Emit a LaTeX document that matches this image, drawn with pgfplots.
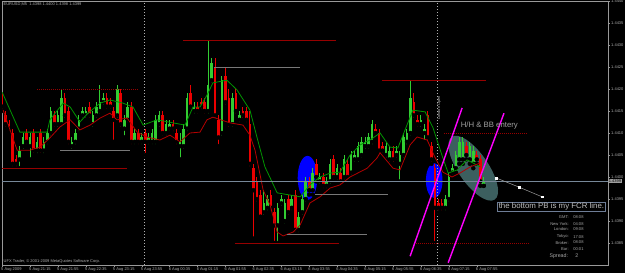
\documentclass[border=0pt]{standalone}
\usepackage{pgfplots}
\pgfplotsset{compat=1.18}
\usepackage{pgfplotstable}
\usepackage{fontspec}
\setmainfont{Liberation Sans}
\definecolor{bull}{RGB}{50,205,50}
\definecolor{bear}{RGB}{235,0,0}
\definecolor{mag}{RGB}{255,0,255}
\definecolor{maG}{RGB}{0,150,0}
\definecolor{maR}{RGB}{180,0,0}
\definecolor{hl}{RGB}{150,0,0}
\definecolor{gl}{RGB}{120,120,120}
\definecolor{bid}{RGB}{119,136,153}
\definecolor{lbl}{RGB}{175,175,175}
\definecolor{ell}{RGB}{60,95,95}
\definecolor{boxc}{RGB}{110,125,150}
\newcommand{\tf}{\fontsize{4}{4.5}\selectfont}

\pgfplotstableread{
i o h l c
6 1.4404 1.4407 1.4402 1.4406
7 1.4407 1.4410 1.4406 1.4409
9 1.4407 1.4410 1.4404 1.4409
11 1.4406 1.4409 1.4405 1.4408
13 1.4406 1.4409 1.4405 1.4408
14 1.4408 1.4411 1.4407 1.4410
15 1.4410 1.4416 1.4409 1.4415
17 1.4412 1.4415 1.4411 1.4414
18 1.4412 1.4420 1.4411 1.4418
21 1.4407 1.4409 1.4406 1.4408
22 1.4408 1.4411 1.4407 1.4410
23 1.4411 1.4414 1.4410 1.4413
24 1.4414 1.4416 1.4413 1.4415
25 1.4414 1.4416 1.4413 1.4415
27 1.4412 1.4415 1.4411 1.4414
28 1.4414 1.4417 1.4413 1.4416
29 1.4415 1.4421 1.4414 1.4417
30 1.4417 1.4419 1.4416 1.4418
34 1.4414 1.4421 1.4413 1.4420
36 1.4411 1.4414 1.4409 1.4413
37 1.4413 1.4417 1.4412 1.4416
39 1.4408 1.4411 1.4407 1.4410
41 1.4408 1.4410 1.4407 1.4409
43 1.4408 1.4410 1.4407 1.4409
44 1.4408 1.4411 1.4407 1.4410
45 1.4408 1.4414 1.4407 1.4413
46 1.4412 1.4415 1.4411 1.4414
48 1.4410 1.4413 1.4409 1.4412
49 1.4411 1.4413 1.4410 1.4412
52 1.4407 1.4410 1.4404 1.4408
53 1.4407 1.4412 1.4406 1.4411
54 1.4411 1.4419 1.4410 1.4418
56 1.4415 1.4417 1.4414 1.4416
60 1.4415 1.4431 1.4414 1.4421
61 1.4422 1.4427 1.4421 1.4426
64 1.4410 1.4423 1.4409 1.4422
67 1.4412 1.4419 1.4411 1.4418
69 1.4413 1.4415 1.4412 1.4414
76 1.4392 1.4397 1.4391 1.4394
77 1.4393 1.4396 1.4392 1.4395
80 1.4389 1.4394 1.4385 1.4393
81 1.4394 1.4396 1.4393 1.4395
82 1.4390 1.4395 1.4389 1.4394
84 1.4393 1.4396 1.4392 1.4395
86 1.4388 1.4392 1.4387 1.4391
87 1.4392 1.4396 1.4391 1.4395
88 1.4395 1.4400 1.4394 1.4399
90 1.4397 1.4402 1.4396 1.4401
92 1.4399 1.4401 1.4398 1.4400
94 1.4398 1.4400 1.4397 1.4399
95 1.4399 1.4404 1.4398 1.4403
97 1.4400 1.4403 1.4399 1.4402
99 1.4400 1.4405 1.4399 1.4404
101 1.4401 1.4406 1.4400 1.4405
102 1.4404 1.4406 1.4403 1.4405
103 1.4404 1.4408 1.4403 1.4407
104 1.4405 1.4409 1.4404 1.4408
105 1.4407 1.4409 1.4406 1.4408
106 1.4407 1.4410 1.4406 1.4409
107 1.4408 1.4413 1.4407 1.4412
111 1.4405 1.4408 1.4404 1.4407
112 1.4404 1.4407 1.4403 1.4406
114 1.4405 1.4407 1.4404 1.4406
115 1.4403 1.4406 1.4399 1.4405
116 1.4405 1.4410 1.4404 1.4409
117 1.4408 1.4411 1.4407 1.4410
118 1.4410 1.4422 1.4409 1.4418
121 1.4412 1.4414 1.4411 1.4413
122 1.4410 1.4412 1.4408 1.4411
128 1.4393 1.4396 1.4392 1.4395
129 1.4395 1.4401 1.4394 1.4400
130 1.4401 1.4403 1.4400 1.4402
131 1.4402 1.4406 1.4401 1.4405
132 1.4404 1.4409 1.4403 1.4408
133 1.4404 1.4409 1.4403 1.4408
135 1.4404 1.4408 1.4403 1.4407
136 1.4403 1.4407 1.4402 1.4406
139 1.4398 1.4400 1.4398 1.4399
}\bulltab

\pgfplotstableread{
i o h l c
1 1.4418 1.4419 1.4415 1.4416
2 1.4414 1.4415 1.4411 1.4412
3 1.4412 1.4413 1.4410 1.4411
4 1.4410 1.4411 1.4402 1.4403
5 1.4404 1.4405 1.4402 1.4403
8 1.4410 1.4411 1.4407 1.4408
10 1.4410 1.4411 1.4405 1.4406
12 1.4410 1.4411 1.4405 1.4406
16 1.4414 1.4415 1.4411 1.4412
19 1.4418 1.4419 1.4413 1.4414
20 1.4415 1.4416 1.4407 1.4408
26 1.4416 1.4417 1.4413 1.4414
31 1.4418 1.4419 1.4415 1.4416
32 1.4417 1.4418 1.4415 1.4416
33 1.4415 1.4416 1.4408 1.4413
35 1.4419 1.4420 1.4411 1.4412
38 1.4416 1.4417 1.4407 1.4408
40 1.4410 1.4411 1.4407 1.4408
42 1.4410 1.4411 1.4405 1.4408
47 1.4414 1.4415 1.4409 1.4410
50 1.4412 1.4413 1.4410 1.4411
51 1.4410 1.4411 1.4407 1.4408
55 1.4419 1.4421 1.4415 1.4416
57 1.4416 1.4417 1.4414 1.4415
58 1.4417 1.4418 1.4415 1.4416
59 1.4417 1.4418 1.4414 1.4415
62 1.4425 1.4427 1.4413 1.4414
63 1.4413 1.4414 1.4407 1.4409
65 1.4423 1.4425 1.4416 1.4417
66 1.4418 1.4420 1.4411 1.4412
68 1.4419 1.4420 1.4414 1.4415
70 1.4415 1.4416 1.4413 1.4414
71 1.4415 1.4416 1.4412 1.4413
72 1.4412 1.4415 1.4402 1.4403
73 1.4402 1.4403 1.4386 1.4397
74 1.4399 1.4400 1.4394 1.4395
75 1.4396 1.4397 1.4390 1.4391
78 1.4396 1.4397 1.4392 1.4393
79 1.4392 1.4393 1.4385 1.4389
83 1.4395 1.4396 1.4391 1.4392
85 1.4396 1.4397 1.4387 1.4388
89 1.4399 1.4400 1.4396 1.4397
91 1.4403 1.4404 1.4399 1.4400
93 1.4400 1.4401 1.4397 1.4398
96 1.4404 1.4405 1.4399 1.4400
98 1.4401 1.4402 1.4398 1.4399
100 1.4403 1.4404 1.4399 1.4400
108 1.4411 1.4412 1.4409 1.4410
109 1.4410 1.4411 1.4405 1.4406
110 1.4407 1.4408 1.4405 1.4406
113 1.4406 1.4407 1.4403 1.4404
119 1.4417 1.4419 1.4413 1.4414
120 1.4413 1.4414 1.4411 1.4412
123 1.4414 1.4415 1.4408 1.4409
124 1.4407 1.4408 1.4403 1.4404
125 1.4402 1.4403 1.4385 1.4393
126 1.4394 1.4395 1.4392 1.4393
127 1.4394 1.4395 1.4392 1.4393
134 1.4407 1.4408 1.4404 1.4405
137 1.4405 1.4406 1.4403 1.4404
138 1.4404 1.4405 1.4398 1.4399
}\beartab

\begin{document}
\begin{tikzpicture}[x=1bp,y=1bp]
\fill[black] (0,0) rectangle (625,273);
\begin{axis}[
  at={(2bp,8bp)}, anchor=south west,
  scale only axis, width=606bp, height=264bp,
  xmin=0.97, xmax=174.6, ymin=1.4380, ymax=1.4440,
  clip mode=individual,
  axis line style={draw=gray!80, line width=0.6bp},
  xtick pos=bottom, ytick pos=right, tick align=outside,
  major tick length=2bp, tick style={draw=gray!80, line width=0.4bp},
  scaled y ticks=false, scaled x ticks=false,
  ytick={1.4385,1.4390,1.4395,1.4400,1.4405,1.4410,1.4415,1.4420,1.4425,1.4430,1.4435,1.4440},
  yticklabels={1.4385,1.4390,1.4395,1.4400,1.4405,1.4410,1.4415,1.4420,1.4425,1.4430,1.4435,1.4440},
  yticklabel style={font=\tf, text=lbl, anchor=west, inner sep=0pt, xshift=1bp},
  xtick={0.97,9,17,25,33,41,49,57,65,73,81,89,97,105,113,121,129,137},
  xticklabels={5 Aug 2009,5 Aug 21:15,5 Aug 21:55,5 Aug 22:35,5 Aug 23:15,5 Aug 23:55,6 Aug 00:35,6 Aug 01:15,6 Aug 01:55,6 Aug 02:35,6 Aug 03:15,6 Aug 03:55,6 Aug 04:35,6 Aug 05:15,6 Aug 05:55,6 Aug 06:35,6 Aug 07:15,6 Aug 07:55},
  xticklabel style={font=\tf, text=lbl, anchor=north west, inner sep=0pt, xshift=-1bp, yshift=-1bp},
]
% background objects
\fill[blue] (axis cs:88.5,1.43998) ellipse [x radius=9.8bp, y radius=22bp];
\fill[blue] (axis cs:124.8,1.43992) ellipse [x radius=8.3bp, y radius=17.5bp];
\fill[ell] (axis cs:136,1.4402) ellipse [x radius=38bp, y radius=15bp, rotate=-55.6];
\draw[gray!60, dash pattern=on 1bp off 2bp, line width=0.5bp] (axis cs:41.6,1.4380) -- (axis cs:41.6,1.4440);
\draw[gray!60, dash pattern=on 1bp off 2bp, line width=0.5bp] (axis cs:125.8,1.4380) -- (axis cs:125.8,1.4440);
% wicks
\addplot[only marks, mark=none, forget plot, error bars/.cd, y dir=plus, y explicit, error mark=none,
  error bar style={draw=bull, line width=1bp}]
  table[x=i, y=l, y error plus expr=\thisrow{h}-\thisrow{l}] {\bulltab};
\addplot[only marks, mark=none, forget plot, error bars/.cd, y dir=plus, y explicit, error mark=none,
  error bar style={draw=bear, line width=1bp}]
  table[x=i, y=l, y error plus expr=\thisrow{h}-\thisrow{l}] {\beartab};
% bodies
\addplot[only marks, mark=none, forget plot, error bars/.cd, y dir=plus, y explicit, error mark=none,
  error bar style={draw=bull, line width=2.6bp}]
  table[x=i, y=o, y error plus expr=\thisrow{c}-\thisrow{o}] {\bulltab};
\addplot[only marks, mark=none, forget plot, error bars/.cd, y dir=plus, y explicit, error mark=none,
  error bar style={draw=bear, line width=2.6bp}]
  table[x=i, y=c, y error plus expr=\thisrow{o}-\thisrow{c}] {\beartab};
% moving averages
\addplot[maG, line width=0.8bp] coordinates {
(1,1.44193) (3.3,1.44152) (6.1,1.44102) (10.4,1.44102) (13.9,1.44102) (14.7,1.44130)
(18.5,1.44168) (20.5,1.44159) (23.3,1.44125) (25.6,1.44145) (29.1,1.44168) (31.9,1.44175)
(35.6,1.44168) (38.5,1.44159) (41.4,1.44118) (45.4,1.44130) (50,1.44123) (53.4,1.44118)
(55.7,1.44159) (57.7,1.44159) (59.7,1.44186) (61.4,1.44214) (65.4,1.44220) (68.3,1.44198)
(72,1.44152) (74,1.44091) (76.3,1.44023) (77.8,1.43998) (79.8,1.43964) (83.5,1.43959)
(86.4,1.43955) (89.2,1.43982) (92.1,1.44000) (95,1.44009) (97.8,1.44011) (100.7,1.44050)
(103.6,1.44073) (106.4,1.44084) (109.3,1.44100) (112.1,1.44068) (114.4,1.44066) (117,1.44118)
(118.7,1.44152) (122.2,1.44148) (124.5,1.44111) (127,1.44050) (128.8,1.44009) (131.4,1.44016)
(134.2,1.44039) (138,1.44023)};
\addplot[maR, line width=0.8bp] coordinates {
(1.3,1.44152) (5.3,1.44061) (9,1.44061) (11.9,1.44068) (14.7,1.44089) (17.6,1.44114)
(20.5,1.44130) (23.3,1.44107) (26.2,1.44118) (29.1,1.44134) (31.9,1.44145) (33.9,1.44130)
(36.8,1.44134) (39.7,1.44102) (42.5,1.44091) (46.2,1.44084) (49.1,1.44095) (52,1.44080)
(54.8,1.44100) (57.7,1.44102) (59.7,1.44130) (61.4,1.44136) (66.3,1.44123) (70,1.44118)
(72,1.44095) (73.5,1.44060) (75.8,1.43970) (77.8,1.43936) (79.8,1.43875) (81.5,1.43866)
(84.4,1.43875) (86.4,1.43891) (89.2,1.43941) (92.1,1.43955) (95,1.43975) (97.8,1.43982)
(100.7,1.44000) (105.6,1.44020) (108.4,1.44043) (109.3,1.44055) (113,1.44020) (115,1.44016)
(117.9,1.44073) (119.9,1.44091) (122.8,1.44084) (125,1.44045) (127.3,1.44011) (129.9,1.44000)
(132.2,1.44009) (135.1,1.44023) (138,1.44032)};
% horizontal object lines
\addplot[hl, line width=0.7bp, dash pattern=on 1bp off 1bp] coordinates {(11,1.4420) (39.7,1.4420)};
\addplot[hl, line width=0.8bp] coordinates {(0.97,1.4402) (36.8,1.4402)};
\addplot[gl, line width=0.8bp] coordinates {(17.6,1.4406) (37.7,1.4406)};
\addplot[hl, line width=0.8bp] coordinates {(52.8,1.4431) (96.7,1.4431)};
\addplot[gl, line width=0.8bp] coordinates {(61.7,1.4425) (86.4,1.4425)};
\addplot[gl, line width=0.8bp] coordinates {(90.7,1.4396) (111.6,1.4396)};
\addplot[gl, line width=0.8bp] coordinates {(82.6,1.4387) (105.6,1.4387)};
\addplot[hl, line width=0.8bp] coordinates {(67.7,1.4385) (97.5,1.4385)};
\addplot[hl, line width=0.8bp] coordinates {(109.9,1.4422) (139.7,1.4422)};
\addplot[hl, line width=0.7bp, dash pattern=on 1bp off 1bp] coordinates {(127.6,1.4410) (151.4,1.4410)};
\addplot[hl, line width=0.7bp, dash pattern=on 1bp off 1bp] coordinates {(119.6,1.4385) (151.7,1.4385)};
% bid line
\addplot[bid, line width=0.7bp] coordinates {(0.97,1.4399) (174.6,1.4399)};
% trend channel
\addplot[mag, line width=1.4bp] coordinates {(117.9,1.43820) (132.8,1.44157)};
\addplot[mag, line width=1.4bp] coordinates {(128.8,1.43805) (144.8,1.44145)};
% arrow-like marker line
\addplot[gray!75, line width=0.5bp, mark=square*, mark size=0.9bp, mark options={draw=white, fill=white}]
  coordinates {(142.5,1.43998) (149.1,1.43977) (155.7,1.43955)};
% texts
\node[text=gray!75, font=\fontsize{7.8}{8}\selectfont, inner sep=0pt] at (axis cs:140.6,1.44118) {H/H \& BB entery};
\node[draw=boxc, line width=0.6bp, text=gray!50!white, font=\fontsize{7.9}{8}\selectfont, inner sep=1bp] at (axis cs:158.4,1.43932) {the bottom PB is my FCR line.};
\node[rotate=90, text=gray!55, font=\fontsize{4}{4.5}\selectfont, inner sep=0pt] at (axis cs:126.2,1.44157) {London Open};
\node[anchor=north west, text=lbl, font=\tf, inner sep=0pt, xshift=1.5bp, yshift=-2bp] at (rel axis cs:0,1) {EURUSD,M5\ \ 1.4398 1.4400 1.4398 1.4399};
\node[anchor=south west, text=lbl, font=\tf, inner sep=0pt, xshift=1.5bp, yshift=1.5bp] at (rel axis cs:0,0) {UFX Trader, \textcopyright\ 2001-2009 MetaQuotes Software Corp.};
\node[anchor=west, fill=gray!75, text=black, font=\tf, inner sep=0.6bp] at (axis cs:174.6,1.4399) {1.4399};
% info panel
\node[anchor=east, text=gray!70, font=\fontsize{4.1}{4.5}\selectfont, inner sep=0pt] at (axis cs:163.4,1.43909) {GMT:};
\node[anchor=east, text=gray!70, font=\fontsize{4.1}{4.5}\selectfont, inner sep=0pt] at (axis cs:163.4,1.43893) {New York:};
\node[anchor=east, text=gray!70, font=\fontsize{4.1}{4.5}\selectfont, inner sep=0pt] at (axis cs:163.4,1.43881) {London:};
\node[anchor=east, text=gray!70, font=\fontsize{4.1}{4.5}\selectfont, inner sep=0pt] at (axis cs:163.4,1.43864) {Tokyo:};
\node[anchor=east, text=gray!70, font=\fontsize{4.1}{4.5}\selectfont, inner sep=0pt] at (axis cs:163.4,1.43851) {Broker:};
\node[anchor=east, text=gray!70, font=\fontsize{4.1}{4.5}\selectfont, inner sep=0pt] at (axis cs:163.4,1.43836) {Bar:};
\node[anchor=west, text=gray!70, font=\fontsize{4.1}{4.5}\selectfont, inner sep=0pt] at (axis cs:164.6,1.43909) {08:08};
\node[anchor=west, text=gray!70, font=\fontsize{4.1}{4.5}\selectfont, inner sep=0pt] at (axis cs:164.6,1.43893) {04:08};
\node[anchor=west, text=gray!70, font=\fontsize{4.1}{4.5}\selectfont, inner sep=0pt] at (axis cs:164.6,1.43881) {09:08};
\node[anchor=west, text=gray!70, font=\fontsize{4.1}{4.5}\selectfont, inner sep=0pt] at (axis cs:164.6,1.43864) {17:08};
\node[anchor=west, text=gray!70, font=\fontsize{4.1}{4.5}\selectfont, inner sep=0pt] at (axis cs:164.6,1.43851) {08:08};
\node[anchor=west, text=gray!70, font=\fontsize{4.1}{4.5}\selectfont, inner sep=0pt] at (axis cs:164.6,1.43836) {00:01};
\node[anchor=east, text=gray!70, font=\fontsize{5.3}{6}\selectfont, inner sep=0pt] at (axis cs:163.2,1.43821) {Spread:};
\node[anchor=west, text=gray!70, font=\fontsize{5.3}{6}\selectfont, inner sep=0pt] at (axis cs:165.2,1.43821) {2};
\end{axis}
\pgfresetboundingbox
\path[use as bounding box] (0,0) rectangle (625,273);
\end{tikzpicture}
\end{document}
